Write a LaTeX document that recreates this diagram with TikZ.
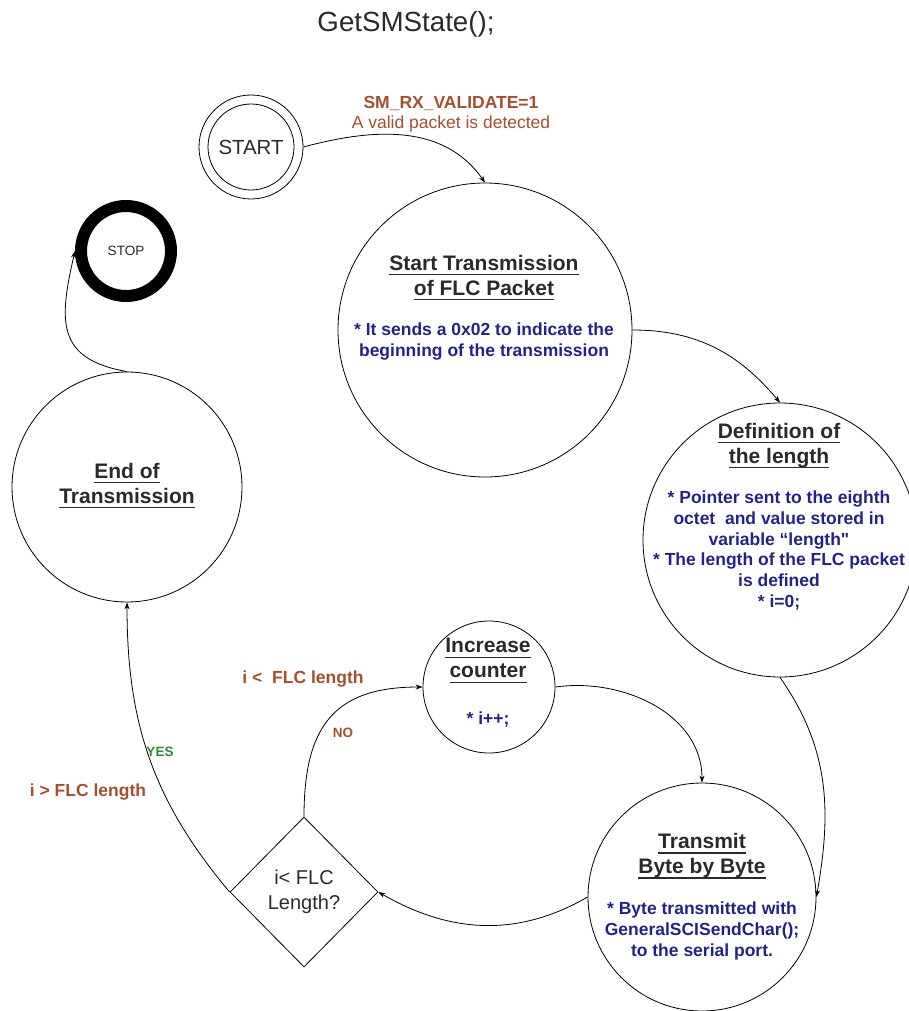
\documentclass[tikz,border=0pt]{standalone}
\usepackage{fontspec}
\setmainfont{Liberation Sans}
% same face without TeX ligature mapping, for a straight double quote
\newfontfamily\plainface{Liberation Sans}
\usetikzlibrary{shapes.geometric,arrows.meta}
% underlined heading line: rule drawn under the full width of the text
\newcommand{\hd}[1]{\setbox0\hbox{#1}\leavevmode\rlap{\rule[-5.2pt]{\wd0}{1.3pt}}\box0}

\definecolor{ink}{HTML}{2A2A2A}
\definecolor{note}{HTML}{22228A}
\definecolor{cond}{HTML}{A5502A}
\definecolor{yescol}{HTML}{2E8B2E}

\begin{document}
\begin{tikzpicture}[x=1pt,y=1pt,
  state/.style={draw, circle, inner sep=0pt, line width=0.8pt},
  head/.style={font=\fontsize{21}{25}\selectfont\bfseries, text=ink, align=center, inner sep=0pt},
  body/.style={font=\fontsize{17.5}{20.7}\selectfont\bfseries, text=note, align=center, inner sep=0pt},
  lbl/.style={font=\fontsize{17.5}{20}\selectfont\bfseries, text=cond, inner sep=0pt},
  tiny/.style={font=\fontsize{13.5}{15}\selectfont\bfseries, inner sep=0pt},
  flow/.style={draw, line width=0.8pt, -{Stealth[length=7pt,width=5pt]}}
]
\useasboundingbox (0,0) rectangle (909,-1011);

% heading
\node[font=\fontsize{27.7}{30}\selectfont, text=ink] (ttl) at (406,-24) {GetSMState();};

% start and stop states
\node[state, minimum size=104pt] (start) at (251,-147) {};
\node[state, minimum size=86pt, font=\fontsize{20.4}{22}\selectfont, text=ink] (startin) at (251,-147) {START};
\node[draw, circle, line width=12pt, minimum size=90pt, inner sep=0pt,
      font=\fontsize{13.5}{15}\selectfont, text=ink] (stop) at (126,-251) {STOP};

% processing states
\node[state, minimum size=294pt] (st) at (485,-330) {};
\node[head] (sthd) at (484,-277.5) {\hd{Start Transmission}\\\hd{of FLC Packet}};
\node[body] (stbd) at (484,-341.7) {* It sends a 0x02 to indicate the\\beginning of the transmission};

\node[state, minimum size=274pt] (def) at (780,-540) {};
\node[head] (defhd) at (779,-445.5) {\hd{Definition of}\\\hd{the length}};
\node[body] (defbd) at (779,-550.5) {* Pointer sent to the eighth\\octet\ \ and value stored in\\variable “length{\plainface\bfseries"}\\* The length of the FLC packet\\is defined\\* i=0;};

\node[state, minimum size=230pt] (endt) at (127,-487) {};
\node[head] (endhd) at (127,-485.5) {\hd{End of}\\\hd{Transmission}};

\node[state, minimum size=132pt] (inc) at (489,-687) {};
\node[head] (inchd) at (488,-660.5) {\hd{Increase}\\\hd{counter}};
\node[body] (incbd) at (488,-720) {* i++;};

\node[state, minimum size=228pt] (tx) at (702,-897) {};
\node[head] (txhd) at (702,-856) {\hd{Transmit}\\\hd{Byte by Byte}};
\node[body] (txbd) at (702,-931) {* Byte transmitted with\\GeneralSCISendChar();\\to the serial port.};

% decision
\node[draw, diamond, line width=0.8pt, inner sep=0pt, minimum width=148pt, minimum height=150pt,
      align=center, font=\fontsize{20}{25}\selectfont, text=ink] (dia) at (304,-892) {i< FLC\\Length?};

% transitions
\draw[flow] (start.east) to[out=15,in=125] (st.north);
\draw[flow] (st.east) to[out=0,in=130] (def.north);
\draw[flow] (def.south) to[out=-55,in=80] (tx.east);
\draw[flow] (inc.east) to[out=8,in=90] (tx.north);
\draw[flow] (tx.west) to[out=210,in=-30] (dia.east);
\draw[flow] (dia.north) to[out=90,in=180,looseness=1.3] (inc.west);
\draw[flow] (dia.west) to[out=130,in=-90] (endt.south);
\draw[flow] (endt.north) to[out=170,in=257,looseness=1.4] (stop.west);

% transition labels
\node[font=\fontsize{17.5}{20}\selectfont\bfseries, text=cond, inner sep=0pt] (c1) at (451,-103) {SM\_RX\_VALIDATE=1};
\node[font=\fontsize{17.5}{20}\selectfont, text=cond, inner sep=0pt] (c2) at (451,-124) {A valid packet is detected};
\node[lbl] (lt) at (303,-679) {i <\ \ FLC length};
\node[tiny, text=cond] (no) at (343,-733) {NO};
\node[tiny, text=yescol] (yes) at (160,-752) {YES};
\node[lbl] (gt) at (88,-792) {i > FLC length};
\end{tikzpicture}
\end{document}
